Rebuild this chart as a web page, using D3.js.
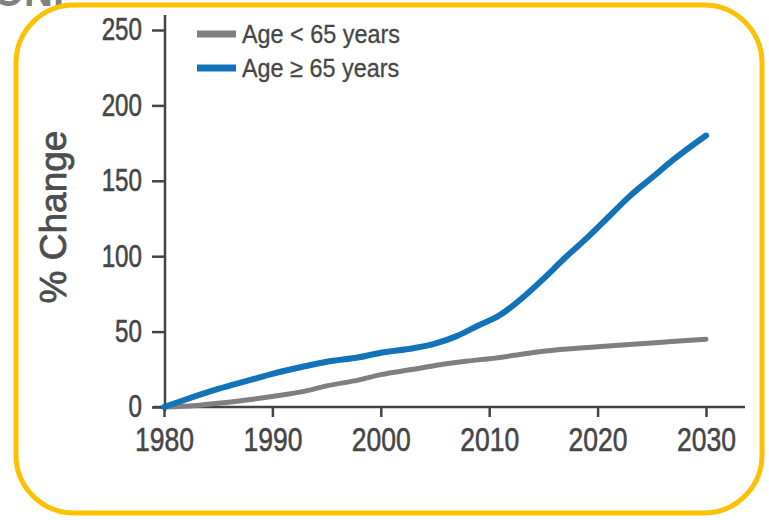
<!DOCTYPE html>
<html><head><meta charset="utf-8">
<script src="https://cdn.jsdelivr.net/npm/d3@7"></script>
<style>html,body{margin:0;padding:0;background:#fff;} svg{display:block;}</style>
</head><body>
<svg id="c" width="769" height="520"></svg>
<script>
const years = [1980, 1990, 2000, 2010, 2020, 2030];
const yTicks = [0, 50, 100, 150, 200, 250];
const seriesNames = ["Age < 65 years", "Age \u2265 65 years"];
const under65Years = [1980, 1983, 1985, 1988, 1990, 1993, 1995, 1998, 2000, 2003, 2005, 2008, 2010, 2013, 2015, 2020, 2025, 2030];
const under65Values = [0, 1, 2.5, 5, 7, 10.5, 14, 18, 21.5, 25, 27.5, 30.5, 32, 35, 37, 40, 42.5, 45];
const over65Years = [1980, 1982, 1985, 1988, 1990, 1993, 1995, 1998, 2000, 2003, 2005, 2007, 2009, 2011, 2013, 2015, 2017, 2019, 2021, 2023, 2025, 2027, 2030];
const over65Values = [0, 5, 12, 18, 22, 27, 30, 33, 36, 39, 42, 47, 54, 61, 72, 85, 99, 112, 126, 140, 152, 164, 180];

const svg = d3.select("#c");
const txt = "#464646";
const font = "Liberation Sans, Arial, sans-serif";

// cut-off title fragment at top-left
svg.append("text").attr("x", 64).attr("y", 6).attr("text-anchor", "end")
  .attr("font-family", font).attr("font-weight", "bold")
  .attr("font-size", 40).attr("fill", "#808080").text("ON,");

// rounded orange frame
svg.append("rect").attr("x", 16).attr("y", 5).attr("width", 746).attr("height", 508)
  .attr("rx", 58).attr("ry", 58).attr("fill", "#fff")
  .attr("stroke", "#FFC000").attr("stroke-width", 5);

const x = d3.scaleLinear().domain([1980, 2030]).range([164, 706]);
const y = d3.scaleLinear().domain([0, 250]).range([407, 30]);

// axes
const gx = svg.append("g").attr("transform", "translate(0,407)")
  .call(d3.axisBottom(x).tickValues(years).tickFormat(d3.format("d")).tickSize(10).tickPadding(10));
gx.select(".domain").remove();
gx.append("line").attr("x1", 153).attr("x2", 745).attr("stroke", "#444").attr("stroke-width", 2.5);
gx.selectAll(".tick line").attr("stroke", "#444").attr("stroke-width", 2.5);
gx.selectAll(".tick text").attr("font-family", font).attr("font-size", 34).attr("fill", txt)
  .attr("stroke", txt).attr("stroke-width", 0.6)
  .attr("transform", "scale(0.78,1)");

const gy = svg.append("g").attr("transform", "translate(165,0)")
  .call(d3.axisLeft(y).tickValues(yTicks).tickSize(13).tickPadding(10));
gy.select(".domain").remove();
gy.append("line").attr("y1", 15).attr("y2", 411).attr("stroke", "#444").attr("stroke-width", 2.5);
gy.selectAll(".tick line").attr("stroke", "#444").attr("stroke-width", 2.5);
gy.selectAll(".tick text").attr("font-family", font).attr("font-size", 31).attr("fill", txt)
  .attr("stroke", txt).attr("stroke-width", 0.6)
  .attr("x", -23 / 0.78).attr("transform", "scale(0.78,1)");

// y label
svg.append("text").attr("transform", "translate(66,217) rotate(-90)").attr("text-anchor", "middle")
  .attr("font-family", font).attr("font-size", 37).attr("fill", "#4d4d4d")
  .attr("stroke", "#4d4d4d").attr("stroke-width", 0.8)
  .text("% Change");

const line = d3.line().x(d => x(d[0])).y(d => y(d[1])).curve(d3.curveMonotoneX);
const under = under65Years.map((yr, i) => [yr, under65Values[i]]);
const over = over65Years.map((yr, i) => [yr, over65Values[i]]);

svg.append("path").datum(under).attr("d", line).attr("fill", "none")
  .attr("stroke", "#7f7f7f").attr("stroke-width", 5).attr("stroke-linecap", "round");
svg.append("path").datum(over).attr("d", line).attr("fill", "none")
  .attr("stroke", "#1273b8").attr("stroke-width", 6).attr("stroke-linecap", "round");

// legend
const legColors = ["#7f7f7f", "#1273b8"];
const leg = svg.append("g");
seriesNames.forEach((n, i) => {
  const yy = 34 + i * 34;
  leg.append("line").attr("x1", 197).attr("x2", 236).attr("y1", yy).attr("y2", yy)
    .attr("stroke", legColors[i]).attr("stroke-width", 7);
  leg.append("text").attr("y", yy + 9)
    .attr("font-family", font).attr("font-size", 26).attr("fill", txt)
    .attr("stroke", txt).attr("stroke-width", 0.3)
    .attr("transform", `translate(${242 * (1 - 0.9)},0) scale(0.9,1)`)
    .attr("x", 242).text(n);
});
</script>
</body></html>
